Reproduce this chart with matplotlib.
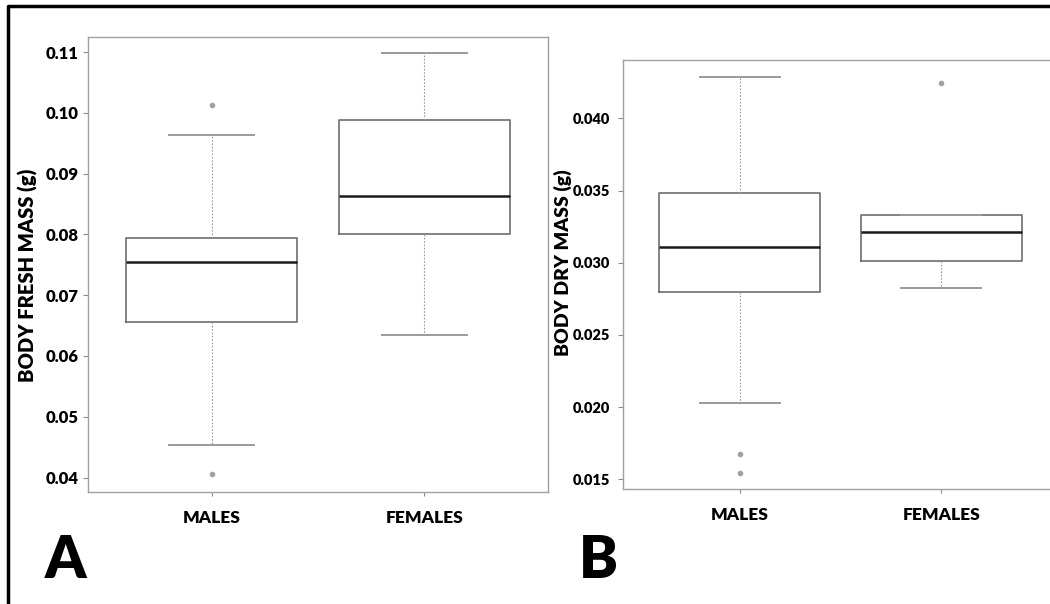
import matplotlib.pyplot as plt
from matplotlib.lines import Line2D

groups = ['MALES', 'FEMALES']

# panel A: body fresh mass (g), five-number summaries
fresh_med = [0.0754, 0.0863]
fresh_q1 = [0.0656, 0.0801]
fresh_q3 = [0.0794, 0.0988]
fresh_lo = [0.0454, 0.0634]
fresh_hi = [0.0963, 0.1098]
fresh_out = [[0.1013, 0.0406], []]
fresh_ticks = [0.04, 0.05, 0.06, 0.07, 0.08, 0.09, 0.10, 0.11]

# panel B: body dry mass (g)
dry_med = [0.03111, 0.03213]
dry_q1 = [0.02797, 0.0301]
dry_q3 = [0.03483, 0.0333]
dry_lo = [0.02029, 0.02822]
dry_hi = [0.04286, 0.0333]
dry_out = [[0.01675, 0.01544], [0.04244]]
dry_ticks = [0.015, 0.020, 0.025, 0.030, 0.035, 0.040]

FONT = ['Lato', 'DejaVu Sans']
GREY = '#8a8a8a'
W = 'heavy'


def draw_panel(ax, med, q1, q3, lo, hi, out, ticks, fmt, ylim, tsize):
    stats = []
    for i in range(len(groups)):
        stats.append(dict(med=med[i], q1=q1[i], q3=q3[i],
                          whislo=lo[i], whishi=hi[i], fliers=out[i]))
    ax.bxp(stats, positions=[1, 2], widths=0.8, capwidths=0.4,
           boxprops=dict(color='#6e6e6e', linewidth=1.2),
           medianprops=dict(color='#1a1a1a', linewidth=1.8),
           whiskerprops=dict(color='#9a9a9a', linewidth=0.8, linestyle=(0, (1.5, 1.5))),
           capprops=dict(color='#9a9a9a', linewidth=1.4),
           flierprops=dict(marker='o', markersize=3, markerfacecolor='#a0a0a0',
                           markeredgecolor='#a0a0a0'))
    ax.set_xlim(0.42, 2.58)
    ax.set_ylim(*ylim)
    ax.set_yticks(ticks)
    ax.set_yticklabels([fmt % t for t in ticks], fontfamily=FONT,
                       fontweight=W, fontsize=tsize)
    ax.set_xticks([1, 2])
    ax.set_xticklabels(groups, fontfamily=FONT, fontweight=W, fontsize=12.5)
    ax.tick_params(axis='y', length=3.5, width=0.8, color=GREY, pad=3.5)
    ax.tick_params(axis='x', length=3, width=0.8, color=GREY, pad=10)
    for s in ax.spines.values():
        s.set_color('#a0a0a0')
        s.set_linewidth(1.0)


fig = plt.figure(figsize=(10.5, 6.04), dpi=100)

axA = fig.add_axes([88 / 1050, 1 - 492 / 604, 460 / 1050, 455 / 604])
draw_panel(axA, fresh_med, fresh_q1, fresh_q3, fresh_lo, fresh_hi, fresh_out,
           fresh_ticks, '%.2f', (0.03763, 0.11247), 12)

axB = fig.add_axes([623 / 1050, 1 - 489 / 604, 435 / 1050, 429 / 604])
draw_panel(axB, dry_med, dry_q1, dry_q3, dry_lo, dry_hi, dry_out,
           dry_ticks, '%.3f', (0.01433, 0.04404), 10.5)
axB.spines['bottom'].set_linestyle((0, (3, 1)))
axB.tick_params(axis='y', pad=6)

fig.text(28 / 1050, 1 - 275 / 604, 'BODY FRESH MASS (g)', rotation=90,
         ha='center', va='center', fontsize=14.5, fontweight=W, family=FONT)
fig.text(563 / 1050, 1 - 263 / 604, 'BODY DRY MASS (g)', rotation=90,
         ha='center', va='center', fontsize=14, fontweight=W, family=FONT)

fig.text(66 / 1050, 1 - 561 / 604, 'A', ha='center', va='center',
         fontsize=42, fontweight=W, family=FONT)
fig.text(598 / 1050, 1 - 561 / 604, 'B', ha='center', va='center',
         fontsize=42, fontweight=W, family=FONT)

# outer black frame (left and top edges visible)
fig.add_artist(Line2D([7.5 / 1050, 7.5 / 1050, 1.0], [0.0, 1 - 5.5 / 604, 1 - 5.5 / 604],
                      transform=fig.transFigure, color='black', linewidth=2.5))

fig.savefig('out.png', dpi=100)
